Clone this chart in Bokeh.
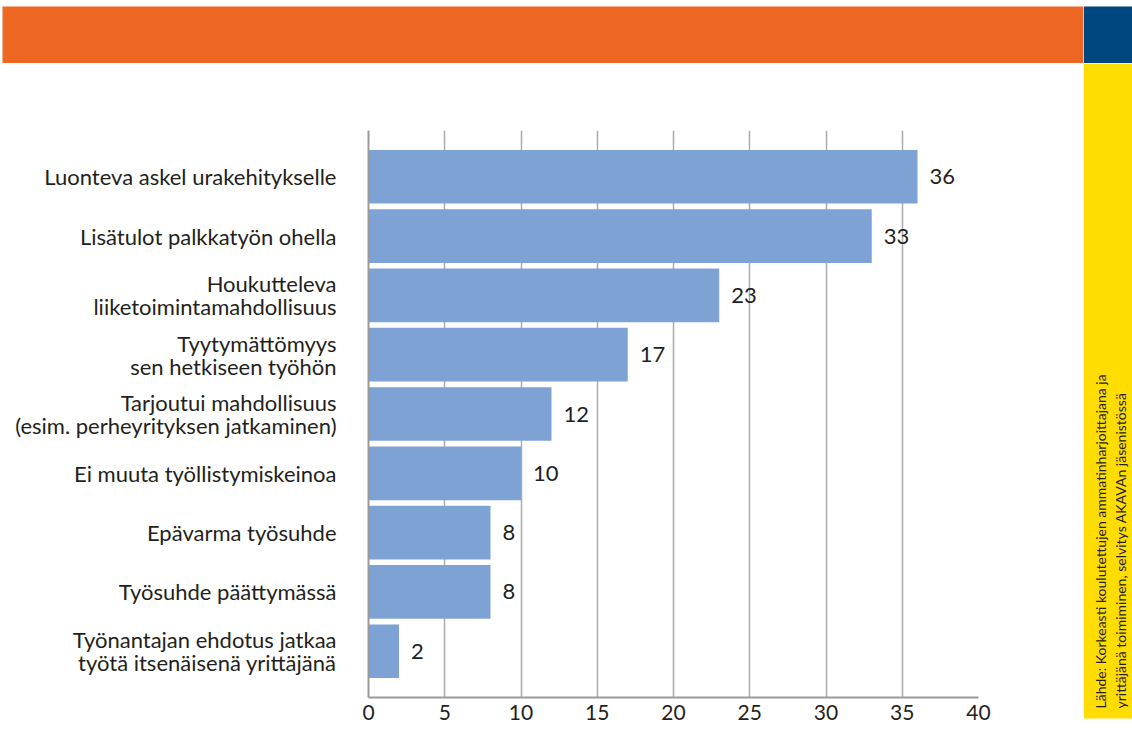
import math
from bokeh.plotting import figure
from bokeh.layouts import column, row
from bokeh.models import FactorRange, Range1d, FixedTicker, ColumnDataSource
from bokeh.core.properties import value
from bokeh.embed import file_html
from bokeh.resources import INLINE

# ---- data ----
categories = [
    "Luonteva askel urakehitykselle",
    "Lisätulot palkkatyön ohella",
    "Houkutteleva\nliiketoimintamahdollisuus",
    "Tyytymättömyys\nsen hetkiseen työhön",
    "Tarjoutui mahdollisuus\n(esim. perheyrityksen jatkaminen)",
    "Ei muuta työllistymiskeinoa",
    "Epävarma työsuhde",
    "Työsuhde päättymässä",
    "Työnantajan ehdotus jatkaa\ntyötä itsenäisenä yrittäjänä",
]
values = [36, 33, 23, 17, 12, 10, 8, 8, 2]
x_ticks = [0, 5, 10, 15, 20, 25, 30, 35, 40]
source_lines = [
    "Lähde: Korkeasti koulutettujen ammatinharjoittajana ja",
    "yrittäjänä toimiminen, selvitys AKAVAn jäsenistössä",
]

FONT = "Lato"
TEXT_COLOR = "#231F20"


def deco(width, height):
    f = figure(width=width, height=height,
               x_range=Range1d(0, width), y_range=Range1d(height, 0),
               x_axis_location=None, y_axis_location=None,
               output_backend="svg", toolbar_location=None, min_border=0)
    f.outline_line_color = None
    f.grid.visible = False
    f.background_fill_color = "white"
    f.border_fill_color = "white"
    return f


# orange banner and blue block
banner = deco(1083, 63)
banner.quad(left=2, right=1083, top=6, bottom=63, fill_color="#EE6722", line_color=None)
corner = deco(49, 63)
corner.quad(left=0, right=49, top=6, bottom=63, fill_color="#00477F", line_color=None)

# yellow source strip
strip = deco(49, 669)
strip.quad(left=0, right=49, top=0, bottom=655, fill_color="#FFDD00", line_color=None)
strip.text(x=[17, 37], y=[645, 645], text=source_lines, angle=math.pi / 2,
           text_align="left", text_baseline="middle",
           text_font=value(FONT), text_font_size="14px", text_color=TEXT_COLOR)

# main chart
src = ColumnDataSource(dict(cat=categories, val=values, lab=[str(v) for v in values]))

p = figure(
    width=1083, height=669,
    x_range=Range1d(0, 40),
    y_range=FactorRange(factors=list(reversed(categories)), range_padding=0.28,
                        range_padding_units="absolute"),
    output_backend="svg", toolbar_location=None,
    min_border_left=368, min_border_right=105, min_border_top=67, min_border_bottom=35,
)
p.outline_line_color = None
p.background_fill_color = "white"
p.border_fill_color = "white"

p.hbar(y="cat", right="val", left=0, height=0.905, source=src,
       fill_color="#7FA2D5", line_color=None)

p.text(x="val", y="cat", text="lab", source=src, x_offset=12,
       text_baseline="middle", text_align="left",
       text_font=value(FONT), text_font_size="22px", text_color=TEXT_COLOR)

p.xaxis.ticker = FixedTicker(ticks=x_ticks)
p.xaxis.major_tick_line_color = None
p.xaxis.minor_tick_line_color = None
p.xaxis.major_tick_out = 0
p.xaxis.major_tick_in = 0
p.xaxis.axis_line_color = "#9A9A9A"
p.xaxis.axis_line_width = 2
p.xaxis.major_label_text_font = FONT
p.xaxis.major_label_text_font_size = "21px"
p.xaxis.major_label_text_color = TEXT_COLOR
p.xaxis.major_label_standoff = 7

p.yaxis.major_tick_line_color = None
p.yaxis.minor_tick_line_color = None
p.yaxis.major_tick_out = 0
p.yaxis.major_tick_in = 0
p.yaxis.axis_line_color = "#9A9A9A"
p.yaxis.axis_line_width = 2
p.yaxis.major_label_text_font = FONT
p.yaxis.major_label_text_font_size = "22px"
p.yaxis.major_label_text_line_height = 0.85
p.yaxis.major_label_text_color = TEXT_COLOR
p.yaxis.major_label_standoff = 32

p.xgrid.grid_line_color = "#ABABAB"
p.xgrid.grid_line_width = 1.5
p.ygrid.grid_line_color = None

layout = column(
    row(banner, corner, spacing=0),
    row(p, column(strip, spacing=0), spacing=0),
    spacing=0,
)

open("out.html", "w").write(file_html(layout, INLINE))
